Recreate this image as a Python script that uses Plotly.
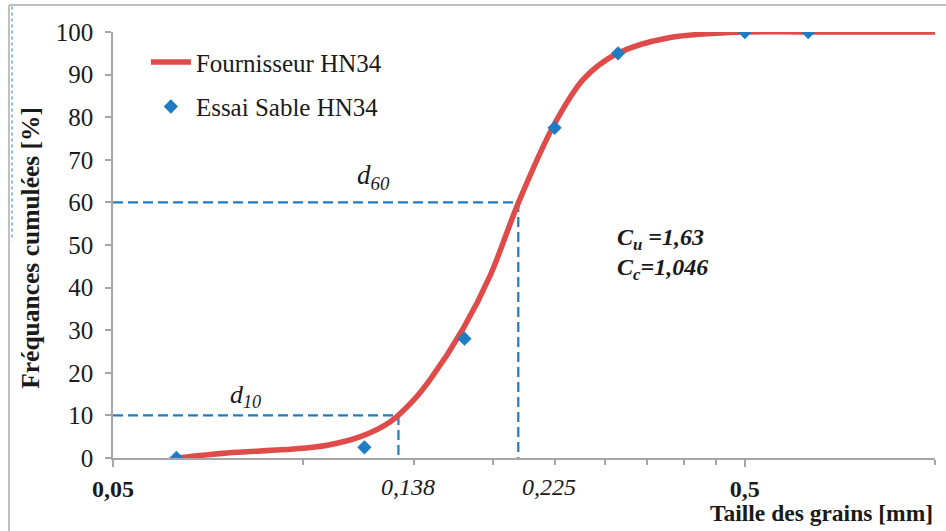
import math
import plotly.graph_objects as go

# ---- data ----
supplier_x = [0.063, 0.0758, 0.0964, 0.1092, 0.1232, 0.1374, 0.1494, 0.159, 0.1793,
              0.1979, 0.2192, 0.249, 0.278, 0.3146, 0.3775, 0.5, 0.63, 1.0]
supplier_y = [0, 1.2, 2.1, 3.0, 5.0, 8.5, 13.5, 18.5, 30.5,
              43, 60, 78, 89, 95, 98.6, 100, 100, 100]

test_x = [0.063, 0.125, 0.18, 0.25, 0.315, 0.5, 0.63]
test_y = [0, 2.5, 28, 77.5, 95, 100, 100]

d10_x, d10_y = 0.1415, 10
d60_x, d60_y = 0.219, 60
x_min, x_max = 0.05, 1.0

y_ticks = [0, 10, 20, 30, 40, 50, 60, 70, 80, 90, 100]
x_major = [0.05, 0.5]
x_major_text = ["<b>0,05</b>", "<b>0,5</b>"]
x_minor = [0.1, 0.15, 0.2, 0.25, 0.3, 0.35, 0.4, 0.45, 1.0]

RED = "#DE4B48"
BLUE = "#1F7BC2"
GRAY = "#A6A6A6"
FONT = "Liberation Serif"
TXT = "#1a1a1a"

fig = go.Figure()

# dashed guide lines (d10 and d60)
for dx, dy in [(d10_x, d10_y), (d60_x, d60_y)]:
    fig.add_trace(go.Scatter(
        x=[x_min, dx, dx], y=[dy, dy, 0], mode="lines",
        line=dict(color=BLUE, width=2.2, dash="10px,5px"),
        showlegend=False, hoverinfo="skip"))

fig.add_trace(go.Scatter(
    x=supplier_x, y=supplier_y, mode="lines", name="Fournisseur HN34",
    line=dict(color=RED, width=5.5, shape="spline", smoothing=0.9),
    legendgroup="a"))

fig.add_trace(go.Scatter(
    x=test_x, y=test_y, mode="markers", name="Essai Sable HN34",
    marker=dict(symbol="diamond", color=BLUE, size=11),
    legendgroup="b"))

annots = []
def ann(x, y, text, size, **kw):
    d = dict(x=x, y=y, text=text, showarrow=False,
             font=dict(family=FONT, size=size, color=TXT))
    d.update(kw)
    annots.append(d)

ann(math.log10(0.081), 14.5, "<i>d<sub>10</sub></i>", 26, xref="x", yref="y")
ann(math.log10(0.129), 66, "<i>d<sub>60</sub></i>", 27, xref="x", yref="y")
ann(math.log10(0.1467), -0.068, "<i>0,138</i>", 24, xref="x", yref="paper",
    yanchor="middle")
ann(math.log10(0.2446), -0.068, "<i>0,225</i>", 24, xref="x", yref="paper",
    yanchor="middle")
ann(math.log10(0.312), 51.3, "<b><i>C<sub>u</sub> =1,63</i></b>", 24,
    xref="x", yref="y", xanchor="left")
ann(math.log10(0.312), 44.3, "<b><i>C<sub>c</sub>=1,046</i></b>", 24,
    xref="x", yref="y", xanchor="left")
ann(1.0, -0.128, "<b>Taille des grains [mm]</b>", 23.5, xref="paper", yref="paper",
    xanchor="right", yanchor="middle")
ann(-0.1, 0.493, "<b>Fréquances cumulées [%]</b>", 25.5, xref="paper", yref="paper",
    textangle=-90, xanchor="center", yanchor="middle")

shapes = [
    dict(type="line", xref="paper", yref="paper", x0=-0.1265, x1=1.02, y0=1.0634, y1=1.0634,
         line=dict(color="#BFBFBF", width=2)),
    dict(type="line", xref="paper", yref="paper", x0=-0.1265, x1=-0.1265, y0=1.0634, y1=-0.2,
         line=dict(color="#BFBFBF", width=2)),
    dict(type="line", xref="paper", yref="paper", x0=-0.1228, x1=-0.1228, y0=1.06, y1=0.51,
         line=dict(color="#4A90D0", width=1.2, dash="dot")),
]

fig.update_layout(
    width=946, height=531,
    margin=dict(l=113, r=11, t=32, b=73),
    paper_bgcolor="white", plot_bgcolor="white",
    font=dict(family=FONT, size=23, color=TXT),
    showlegend=True,
    legend=dict(x=0.04, y=0.983, xanchor="left", yanchor="top",
                font=dict(family=FONT, size=25, color=TXT),
                bgcolor="rgba(0,0,0,0)", tracegroupgap=9,
                traceorder="grouped", itemwidth=40),
    annotations=annots, shapes=shapes,
    xaxis=dict(type="log", range=[math.log10(x_min), math.log10(x_max)],
               showgrid=False, zeroline=False, showline=True, linecolor=GRAY, linewidth=1.5,
               tickmode="array", tickvals=x_major, ticktext=x_major_text,
               ticks="outside", ticklen=7, tickcolor=GRAY, tickwidth=1.5,
               ticklabelstandoff=1,
               tickfont=dict(family=FONT, size=24, color=TXT)),
    yaxis=dict(range=[0, 100], showgrid=False, zeroline=False, showline=True,
               linecolor=GRAY, linewidth=1.5, tickmode="array", tickvals=y_ticks,
               ticks="outside", ticklen=6, tickcolor=GRAY, tickwidth=1.5,
               ticklabelstandoff=7,
               tickfont=dict(family=FONT, size=25, color=TXT)),
)
fig.update_xaxes(minor=dict(tickvals=x_minor, ticks="outside", ticklen=5,
                            tickcolor=GRAY, tickwidth=1.5, showgrid=False))

fig.write_html("out.html", config={"displayModeBar": False},
               post_script="document.body.style.margin='0';")
